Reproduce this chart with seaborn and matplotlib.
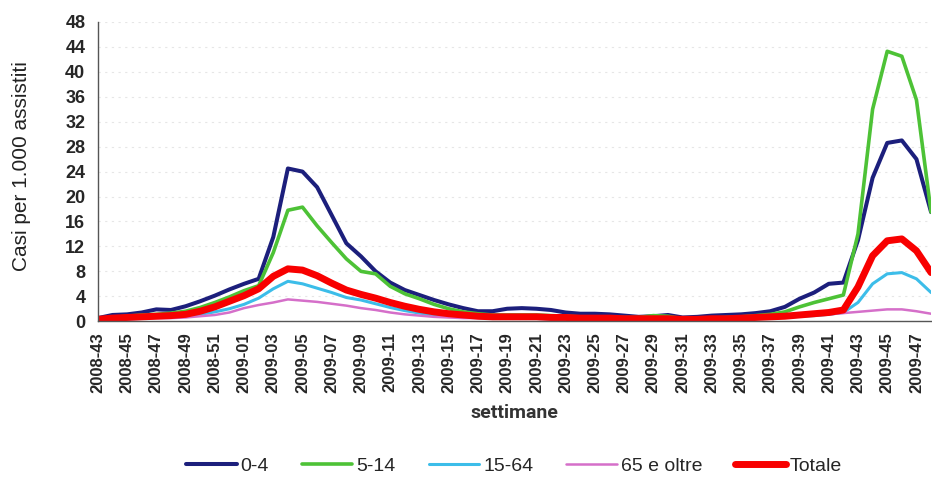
import numpy as np
import pandas as pd
import matplotlib
matplotlib.use("Agg")
import matplotlib.pyplot as plt
import seaborn as sns

# settimane 2008-43 ... 2009-48
settimane = ([f"2008-{w}" for w in range(43, 53)]
             + [f"2009-{w:02d}" for w in range(1, 49)])

eta_0_4 = [0.5, 1.0, 1.1, 1.4, 1.9, 1.8, 2.4, 3.2, 4.1, 5.1,
           6.0, 6.8, 13.5, 24.5, 24.0, 21.5, 17.0, 12.5, 10.4, 8.0,
           6.2, 5.0, 4.2, 3.4, 2.7, 2.1, 1.6, 1.6, 2.0, 2.1,
           2.0, 1.8, 1.4, 1.2, 1.2, 1.1, 0.9, 0.7, 0.8, 1.0,
           0.6, 0.7, 0.9, 1.0, 1.1, 1.3, 1.6, 2.3, 3.6, 4.6,
           6.0, 6.2, 13.0, 23.0, 28.6, 29.0, 26.0, 17.5]
eta_5_14 = [0.3, 0.6, 0.8, 1.0, 1.1, 1.3, 1.6, 2.2, 3.0, 3.9,
            4.9, 5.7, 11.0, 17.8, 18.3, 15.3, 12.6, 10.0, 8.0, 7.6,
            5.6, 4.4, 3.6, 2.7, 2.0, 1.5, 1.2, 1.0, 1.0, 1.0,
            1.0, 0.9, 0.8, 0.7, 0.7, 0.6, 0.6, 0.6, 0.9, 0.8,
            0.4, 0.4, 0.5, 0.6, 0.7, 0.9, 1.1, 1.5, 2.3, 3.0,
            3.6, 4.2, 14.0, 34.0, 43.3, 42.5, 35.5, 17.5]
eta_15_64 = [0.2, 0.4, 0.5, 0.6, 0.7, 0.8, 0.9, 1.1, 1.5, 2.0,
             2.7, 3.7, 5.2, 6.4, 6.0, 5.3, 4.6, 3.8, 3.4, 2.8,
             2.2, 1.7, 1.3, 1.0, 0.8, 0.7, 0.6, 0.5, 0.5, 0.5,
             0.5, 0.4, 0.4, 0.4, 0.3, 0.3, 0.3, 0.3, 0.3, 0.3,
             0.2, 0.2, 0.3, 0.3, 0.4, 0.4, 0.5, 0.6, 0.8, 0.9,
             1.1, 1.4, 3.0, 6.0, 7.6, 7.8, 6.8, 4.6]
eta_65 = [0.2, 0.3, 0.3, 0.4, 0.5, 0.5, 0.6, 0.8, 1.0, 1.4,
          2.1, 2.6, 3.0, 3.5, 3.3, 3.1, 2.8, 2.5, 2.1, 1.8,
          1.4, 1.1, 0.9, 0.7, 0.6, 0.5, 0.5, 0.4, 0.4, 0.4,
          0.4, 0.3, 0.3, 0.3, 0.3, 0.3, 0.3, 0.3, 0.3, 0.3,
          0.3, 0.3, 0.4, 0.4, 0.5, 0.6, 0.7, 0.8, 0.9, 1.0,
          1.1, 1.3, 1.5, 1.7, 1.9, 1.9, 1.6, 1.2]
totale = [0.3, 0.5, 0.6, 0.7, 0.8, 0.9, 1.1, 1.6, 2.3, 3.2,
          4.1, 5.2, 7.2, 8.4, 8.2, 7.3, 6.1, 5.0, 4.3, 3.7,
          3.0, 2.4, 1.9, 1.5, 1.2, 1.0, 0.8, 0.7, 0.7, 0.7,
          0.7, 0.6, 0.6, 0.5, 0.5, 0.5, 0.4, 0.4, 0.4, 0.4,
          0.3, 0.3, 0.4, 0.4, 0.5, 0.6, 0.7, 0.8, 1.0, 1.2,
          1.4, 1.8, 5.5, 10.5, 12.9, 13.2, 11.3, 7.8]

serie = [
    ("0-4", eta_0_4, "#1c1f7c", 2.9),
    ("5-14", eta_5_14, "#4dc236", 2.6),
    ("15-64", eta_15_64, "#3cbde9", 2.2),
    ("65 e oltre", eta_65, "#d56fc9", 1.8),
    ("Totale", totale, "#f80000", 5.0),
]

sns.set_style("white")
plt.rcParams["font.family"] = ["Liberation Sans", "DejaVu Sans"]

fig = plt.figure(figsize=(9.32, 4.78), dpi=100)
ax = fig.add_axes([0.105, 0.328, 0.894, 0.626])

pos = np.arange(len(settimane))
for nome, valori, colore, lw in serie:
    df = pd.DataFrame({"pos": pos, "casi": valori})
    sns.lineplot(data=df, x="pos", y="casi", ax=ax, color=colore,
                 linewidth=lw, label=nome, legend=False)

ax.set_xlim(0, len(settimane) - 1)
ax.set_ylim(0, 48)
ax.set_yticks(range(0, 49, 4))
ax.set_yticklabels([str(v) for v in range(0, 49, 4)],
                   fontsize=13, fontweight="bold")
ax.set_xticks(pos[::2])
ax.set_xticklabels(settimane[::2], rotation=90, fontsize=12,
                   fontweight="bold")
ax.set_xticks(pos[1::2], minor=True)
ax.tick_params(axis="both", which="both", direction="out", length=5,
               color="#555555", width=1)
ax.tick_params(axis="y", pad=4)
ax.tick_params(axis="x", pad=3)
ax.set_xlabel("")
ax.set_ylabel("")

ax.yaxis.grid(True, color="#e6e6e6", linestyle=(0, (2, 4)), linewidth=0.8)
ax.set_axisbelow(True)
for s in ["top", "right"]:
    ax.spines[s].set_visible(False)
for s in ["left", "bottom"]:
    ax.spines[s].set_color("#555555")
    ax.spines[s].set_linewidth(1)

fig.text(22 / 932, 1 - 166 / 478, "Casi per 1.000 assistiti", rotation=90,
         ha="center", va="center", fontsize=15, color="#222222")
fig.text(514 / 932, 1 - 413 / 478, "settimane", ha="center", va="center",
         fontsize=14, fontweight="bold", family="Roboto", color="#333333")

handles = ax.get_lines()[:len(serie)]
fig.legend(handles, [s[0] for s in serie], loc="center",
           bbox_to_anchor=(514 / 932, 1 - 466 / 478), ncol=5, frameon=False,
           fontsize=14, handlelength=2.6, handletextpad=0.2,
           columnspacing=1.7)

plt.savefig("out.png", dpi=100)
